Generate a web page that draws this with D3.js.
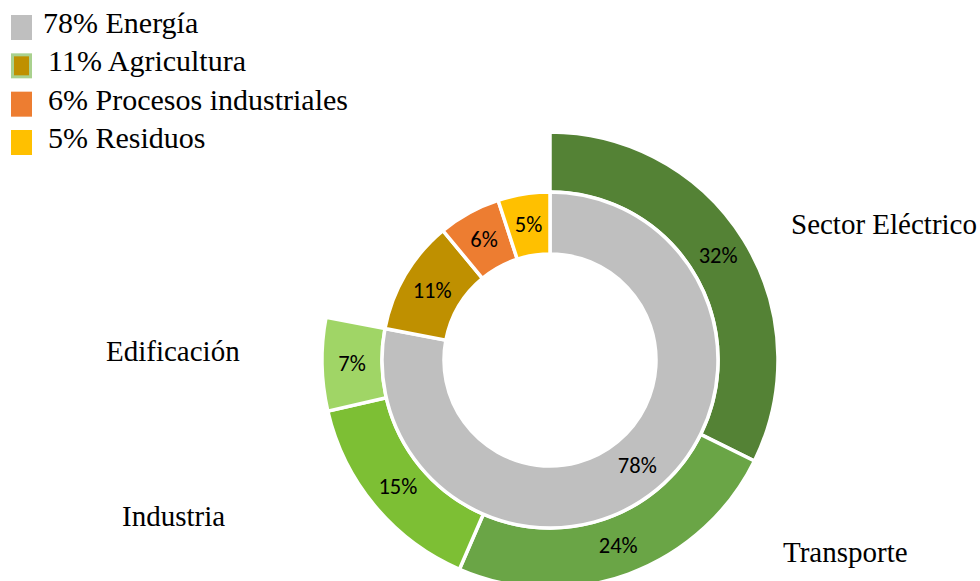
<!DOCTYPE html>
<html>
<head>
<meta charset="utf-8">
<script src="https://cdn.jsdelivr.net/npm/d3@7"></script>
<style>
  html, body { margin: 0; padding: 0; background: #ffffff; }
  svg { display: block; }
</style>
</head>
<body>
<svg id="chart" width="980" height="581"></svg>
<script>
// ---- Data ----
const innerCategories = ["Energía", "Agricultura", "Procesos industriales", "Residuos"];
const innerValues = [78, 11, 6, 5];
const outerCategories = ["Sector Eléctrico", "Transporte", "Industria", "Edificación"];
// printed labels are rounded
const outerValues = [32.3, 24.2, 14.9, 6.6];
const total = 100;

// ---- Styles ----
const innerColors = ["#BFBFBF", "#BF9000", "#ED7D31", "#FFC000"];
const outerColors = ["#548235", "#6AA546", "#7DBF34", "#A0D566"];
const legendBorder = [null, "#A9D18E", null, null];

// Layout (label placement, not data)
const outerLabelLayout = [
  { x: 791, y: 234 },
  { x: 783, y: 562 },
  { x: 122, y: 526 },
  { x: 106, y: 361 }
];

const serif = '"Liberation Serif", "Times New Roman", Tinos, serif';
const pctFont = 'Carlito, Calibri, Lato, sans-serif';
const fmt = v => Math.round(v) + "%";

const svg = d3.select("#chart");
const cx = 550, cy = 360;
const rHole = 106, rMid = 168, rOuter = 228;

const g = svg.append("g").attr("transform", `translate(${cx},${cy})`);

const innerPie = d3.pie().sort(null).value(d => d)
  .startAngle(0).endAngle(2 * Math.PI);
const outerSum = d3.sum(outerValues);
const outerPie = d3.pie().sort(null).value(d => d)
  .startAngle(0).endAngle(2 * Math.PI * outerSum / total);

const innerArc = d3.arc().innerRadius(rHole).outerRadius(rMid);
const outerArc = d3.arc().innerRadius(rMid).outerRadius(rOuter);

const innerData = innerPie(innerValues);
const outerData = outerPie(outerValues);

g.selectAll("path.outer").data(outerData).enter().append("path")
  .attr("class", "outer")
  .attr("d", outerArc)
  .attr("fill", (d, i) => outerColors[i])
  .attr("stroke", "#ffffff")
  .attr("stroke-width", 3.5);

g.selectAll("path.inner").data(innerData).enter().append("path")
  .attr("class", "inner")
  .attr("d", innerArc)
  .attr("fill", (d, i) => innerColors[i])
  .attr("stroke", "#ffffff")
  .attr("stroke-width", 3.5);

const pctSize = 22.5;

g.selectAll("text.inpct").data(innerData).enter().append("text")
  .attr("class", "inpct")
  .attr("transform", d => `translate(${innerArc.centroid(d)})`)
  .attr("text-anchor", "middle")
  .attr("dominant-baseline", "central")
  .attr("font-family", pctFont)
  .attr("font-size", pctSize)
  .attr("fill", "#000")
  .text(d => fmt(d.data));

g.selectAll("text.outpct").data(outerData).enter().append("text")
  .attr("class", "outpct")
  .attr("transform", d => `translate(${outerArc.centroid(d)})`)
  .attr("text-anchor", "middle")
  .attr("dominant-baseline", "central")
  .attr("font-family", pctFont)
  .attr("font-size", pctSize)
  .attr("fill", "#000")
  .text(d => fmt(d.data));

svg.selectAll("text.cat").data(outerCategories).enter().append("text")
  .attr("class", "cat")
  .attr("x", (d, i) => outerLabelLayout[i].x)
  .attr("y", (d, i) => outerLabelLayout[i].y)
  .attr("font-family", serif)
  .attr("font-size", 29)
  .attr("fill", "#000")
  .text(d => d);

const legend = svg.append("g").attr("class", "legend");
const legendY = d3.scaleLinear().domain([0, 3]).range([33, 148]);
innerCategories.forEach((c, i) => {
  const by = legendY(i);
  const sq = legend.append("rect")
    .attr("x", 11).attr("y", by - 18)
    .attr("width", 21).attr("height", 25)
    .attr("fill", innerColors[i]);
  if (legendBorder[i]) {
    sq.attr("x", 12.5).attr("y", by - 16.5).attr("width", 18).attr("height", 22)
      .attr("stroke", legendBorder[i]).attr("stroke-width", 3);
  }
  legend.append("text")
    .attr("x", i === 0 ? 43 : 48)
    .attr("y", by)
    .attr("font-family", serif)
    .attr("font-size", 30)
    .attr("fill", "#000")
    .text(fmt(innerValues[i]) + " " + c);
});
</script>
</body>
</html>
